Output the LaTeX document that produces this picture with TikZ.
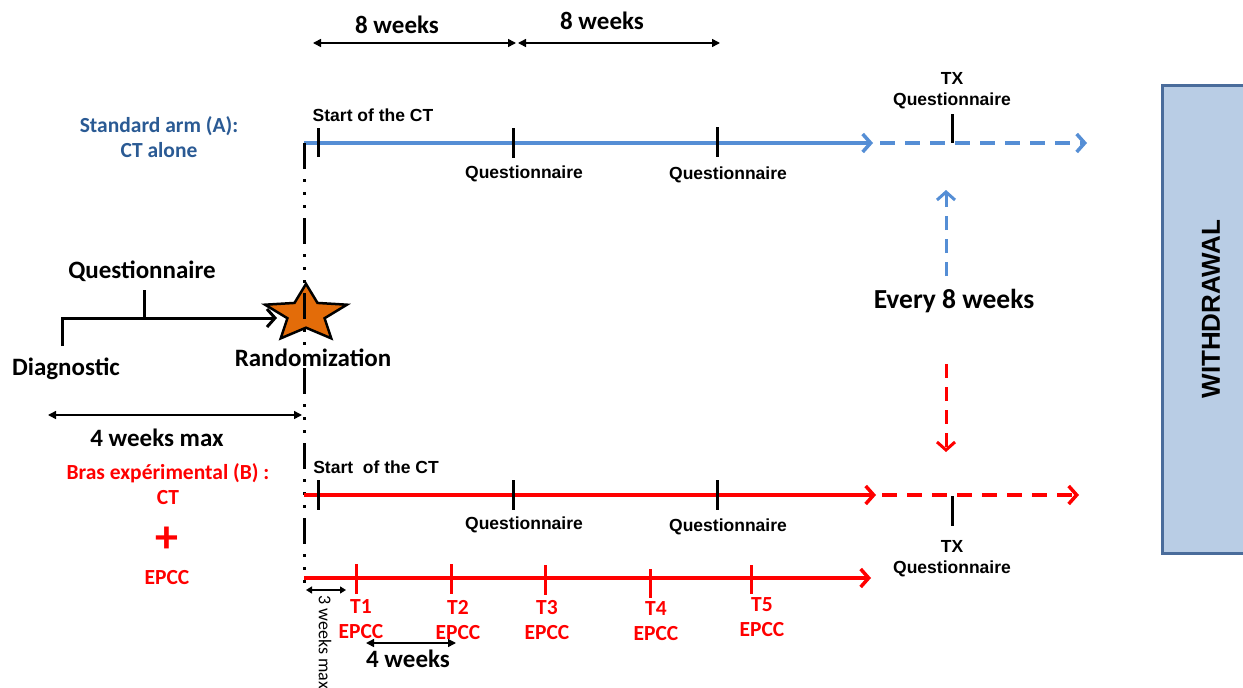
\documentclass[tikz,border=0pt]{standalone}
\usepackage{fontspec}
\setmainfont{Carlito}
\newfontfamily\arialf{Liberation Sans}
\usetikzlibrary{arrows.meta,shapes.geometric}
\definecolor{armblue}{HTML}{558ED5}
\definecolor{txtblue}{HTML}{2A5A94}
\definecolor{armred}{HTML}{FF0000}
\definecolor{starfill}{HTML}{E36C09}
\definecolor{wdfill}{HTML}{B9CDE5}
\definecolor{wdline}{HTML}{4A6C9B}
\tikzset{
  cbig/.style={font=\bfseries\fontsize{25}{29}\selectfont, inner sep=0pt},
  cmid/.style={font=\bfseries\fontsize{21.5}{25}\selectfont, inner sep=0pt, align=center},
  ar/.style={font=\arialf\bfseries\fontsize{17.5}{21}\selectfont, inner sep=0pt, align=center},
  tick/.style={line width=3pt, black},
  redtick/.style={line width=3pt, armred},
  bluearm/.style={line width=3.5pt, armblue},
  redarm/.style={line width=3.5pt, armred},
  barb/.style={-{Straight Barb[length=8pt,width=18pt]}},
  dashpat/.style={dash pattern=on 15pt off 10pt},
  dim/.style={line width=1.5pt, black, {Triangle[length=8pt,width=8pt]}-{Triangle[length=8pt,width=8pt]}},
  dimsmall/.style={line width=1.3pt, black, {Triangle[length=6pt,width=7pt]}-{Triangle[length=6pt,width=7pt]}},
}
\begin{document}
\begin{tikzpicture}[x=1pt,y=-1pt]
\useasboundingbox (0,0) rectangle (1243,688);

% WITHDRAWAL box
\begin{scope}
\clip (0,0) rectangle (1243,688);
\node[draw=wdline, line width=3pt, fill=wdfill, minimum width=90pt, minimum height=468pt, anchor=north west, inner sep=0pt] (wd) at (1161,84) {};
\end{scope}
\node[rotate=90, font=\arialf\bfseries\fontsize{26}{26}\selectfont, inner sep=0pt] (wdt) at (1211,309) {WITHDRAWAL};

% top dimension arrows
\coordinate (w0) at (313,43);
\coordinate (w1) at (516,43);
\coordinate (w1b) at (518,43);
\coordinate (w2) at (720,43);
\draw[dim] (w0) -- (w1);
\draw[dim] (w1b) -- (w2);
\node[cbig] (wk1) at (397,25) {8 weeks};
\node[cbig] (wk2) at (602,21) {8 weeks};

% Arm A
\node[cmid, text=txtblue] (armA) at (159,137) {Standard arm (A):\\CT alone};
\coordinate (a0) at (304,143);
\coordinate (a1) at (873,143);
\coordinate (a1b) at (880,143);
\coordinate (a2) at (1087,143);
\draw[bluearm, barb] (a0) -- (a1);
\draw[bluearm, dashpat, barb] (a1b) -- (a2);
\draw[tick] (318,128) -- (318,157);
\draw[tick] (513,128) -- (513,158);
\draw[tick] (717,127) -- (717,157);
\draw[tick] (952,114) -- (952,143);
\node[ar] (startA) at (373,115) {Start of the CT};
\node[ar] (qA1) at (524,174) {Questionnaire};
\node[ar] (qA2) at (728,175) {Questionnaire};
\node[ar] (txA) at (952,91) {TX\\Questionnaire};

% Every 8 weeks
\node[cbig, font=\bfseries\fontsize{27.5}{30}\selectfont] (every) at (954,301) {Every 8 weeks};
\coordinate (up0) at (946,276);
\coordinate (up1) at (946,190);
\coordinate (dn0) at (946,364);
\coordinate (dn1) at (946,452);
\draw[bluearm, line width=3pt, dash pattern=on 14pt off 9pt, barb] (up0) -- (up1);
\draw[redarm, line width=3pt, dash pattern=on 14pt off 9pt, barb] (dn0) -- (dn1);

% Pre-randomization
\coordinate (d0) at (62,346);
\coordinate (d1) at (62,318);
\coordinate (d2) at (277,318);
\draw[line width=3pt, black, barb] (d0) -- (d1) -- (d2);
\draw[tick] (144,290) -- (144,318);
\node[cbig] (qpre) at (142,271) {Questionnaire};
\node[cbig] (diag) at (66,369) {Diagnostic};
\node[star, star points=5, star point ratio=2.2, draw=black, line width=2.5pt, fill=starfill, minimum size=86pt, inner sep=0pt, yscale=0.7] (rand) at (306,314) {};
\node[cbig] (randt) at (313,358) {Randomization};
\coordinate (m0) at (48,415);
\coordinate (m1) at (302,415);
\draw[dim] (m0) -- (m1);
\node[cbig] (max4) at (157,438) {4 weeks max};

% vertical dash-dot line
\coordinate (v0) at (304,143);
\coordinate (v1) at (304,590);
\draw[line width=3pt, black, dash pattern=on 26pt off 10pt on 3pt off 10pt on 3pt off 10pt on 3pt off 10pt] (v0) -- (v1);

% Arm B
\node[cmid, text=armred] (armB) at (168,484) {Bras expérimental (B) :\\CT};
\node[font=\bfseries\fontsize{46}{46}\selectfont, text=armred, inner sep=0pt] (plus) at (167,540) {+};
\node[cmid, text=armred] (epccB) at (167,578) {EPCC};
\coordinate (b0) at (304,495);
\coordinate (b1) at (876,495);
\coordinate (b1b) at (882,495);
\coordinate (b2) at (1079,495);
\draw[redarm, barb] (b0) -- (b1);
\draw[redarm, dashpat, barb] (b1b) -- (b2);
\draw[tick] (318,480) -- (318,510);
\draw[tick] (513,480) -- (513,510);
\draw[tick] (717,480) -- (717,510);
\draw[tick] (952,496) -- (952,526);
\node[ar] (startB) at (376,467) {Start\ \ of the CT};
\node[ar] (qB1) at (524,525) {Questionnaire};
\node[ar] (qB2) at (728,527) {Questionnaire};
\node[ar] (txB) at (952,559) {TX\\Questionnaire};

% EPCC line
\coordinate (e0) at (304,578);
\coordinate (e1) at (871,578);
\draw[redarm, barb] (e0) -- (e1);
\draw[redtick] (356,564) -- (356,594);
\draw[redtick] (451,564) -- (451,594);
\draw[redtick] (545,565) -- (545,595);
\draw[redtick] (650,569) -- (650,598);
\draw[redtick] (751,565) -- (751,594);
\node[cmid, text=armred] (t1) at (361,619) {T1\\EPCC};
\node[cmid, text=armred] (t2) at (458,620) {T2\\EPCC};
\node[cmid, text=armred] (t3) at (547,620) {T3\\EPCC};
\node[cmid, text=armred] (t4) at (656,621) {T4\\EPCC};
\node[cmid, text=armred] (t5) at (762,617) {T5\\EPCC};

\coordinate (s0) at (306,590);
\coordinate (s1) at (346,590);
\draw[dimsmall] (s0) -- (s1);
\node[rotate=-90, anchor=west, font=\fontsize{18}{18}\selectfont, inner sep=0pt] (max3) at (325,595) {3 weeks max};
\coordinate (f0) at (366,643);
\coordinate (f1) at (456,643);
\draw[dim] (f0) -- (f1);
\node[cbig] (wk4) at (408,659) {4 weeks};
\end{tikzpicture}
\end{document}
